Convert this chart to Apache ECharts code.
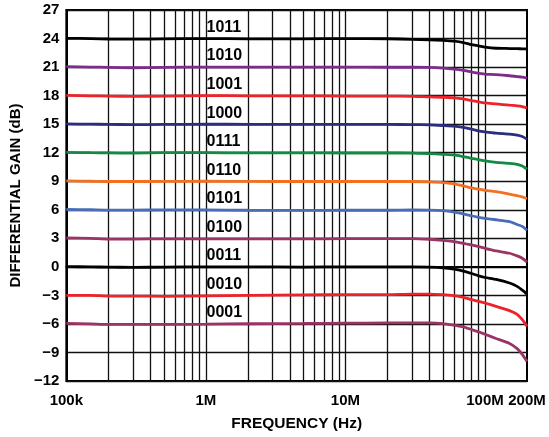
<!DOCTYPE html>
<html>
<head>
<meta charset="utf-8">
<script src="https://cdn.jsdelivr.net/npm/echarts@6/dist/echarts.min.js"></script>
<style>
html,body{margin:0;padding:0;background:#fff;}
#chart{width:549px;height:437px;}
</style>
</head>
<body>
<div id="chart"></div>
<script>
// ---- data ----
var freqs = [1e5, 1.5e5, 2e5, 3e5, 5e5, 1e6, 2e6, 5e6, 1e7, 2e7, 3e7, 4e7, 5e7, 6e7, 7e7, 8e7, 9e7, 1e8, 1.2e8, 1.5e8, 1.7e8, 1.85e8, 2e8];

var codes = ['1011', '1010', '1001', '1000', '0111', '0110', '0101', '0100', '0011', '0010', '0001'];
var nominalGain = [24, 21, 18, 15, 12, 9, 6, 3, 0, -3, -6];

var g1011 = [24.02, 24.0, 23.95, 23.93, 23.97, 24.0, 23.97, 23.97, 24.0, 23.98, 23.92, 23.86, 23.8, 23.72, 23.58, 23.35, 23.23, 23.1, 22.98, 22.95, 22.93, 22.92, 22.9];
var g1010 = [21.05, 21.0, 20.97, 20.93, 20.97, 21.0, 21.0, 21.0, 21.0, 20.98, 20.98, 20.97, 20.9, 20.79, 20.65, 20.48, 20.34, 20.27, 20.2, 20.09, 20.0, 19.95, 19.85];
var g1001 = [18.02, 17.98, 17.95, 17.92, 17.95, 18.0, 17.98, 17.98, 17.95, 17.95, 17.93, 17.86, 17.83, 17.76, 17.65, 17.48, 17.34, 17.23, 17.13, 16.99, 16.93, 16.85, 16.71];
var g1000 = [15.02, 15.0, 14.98, 14.95, 14.97, 15.0, 14.98, 14.97, 14.98, 14.97, 14.96, 14.93, 14.86, 14.79, 14.65, 14.48, 14.3, 14.2, 14.06, 13.95, 13.85, 13.7, 13.43];
var g0111 = [12.03, 12.0, 11.98, 11.95, 12.0, 12.0, 11.98, 11.98, 11.97, 11.97, 11.96, 11.9, 11.83, 11.76, 11.58, 11.41, 11.27, 11.13, 10.99, 10.88, 10.78, 10.6, 10.26];
var g0110 = [9.03, 9.0, 8.97, 8.97, 8.98, 9.0, 8.98, 8.97, 8.97, 8.97, 8.97, 8.93, 8.86, 8.72, 8.51, 8.3, 8.16, 8.05, 7.9, 7.65, 7.48, 7.35, 7.15];
var g0101 = [6.03, 6.0, 5.97, 5.97, 5.98, 5.98, 5.95, 5.93, 5.95, 5.95, 5.98, 5.97, 5.9, 5.76, 5.58, 5.37, 5.2, 5.09, 4.95, 4.75, 4.45, 4.25, 3.84];
var g0100 = [3.03, 3.0, 2.92, 2.92, 2.95, 2.95, 2.95, 2.93, 2.97, 2.97, 2.97, 2.9, 2.79, 2.65, 2.48, 2.3, 2.13, 1.95, 1.68, 1.43, 1.15, 0.9, 0.5];
var g0011 = [0.02, 0.0, -0.03, -0.05, -0.03, 0.0, 0.0, -0.02, 0.0, 0.0, 0.0, -0.03, -0.1, -0.24, -0.45, -0.7, -0.94, -1.12, -1.32, -1.7, -2.05, -2.45, -2.86];
var g0010 = [-3.0, -3.0, -3.07, -3.07, -3.1, -3.05, -3.0, -2.95, -2.92, -2.92, -2.87, -2.87, -2.93, -3.03, -3.2, -3.45, -3.62, -3.8, -4.15, -4.6, -5.0, -5.55, -6.25];
var g0001 = [-5.95, -6.0, -6.05, -6.05, -6.05, -6.03, -5.98, -5.95, -5.92, -5.9, -5.9, -5.9, -5.97, -6.14, -6.31, -6.59, -6.83, -7.08, -7.53, -8.05, -8.6, -9.2, -9.95];

var gainSeries = [g1011, g1010, g1001, g1000, g0111, g0110, g0101, g0100, g0011, g0010, g0001];
var colors = ['#000000', '#7E2C8C', '#EE2229', '#2B2D7E', '#138A43', '#F37021', '#4A6CB5', '#9B3466', '#000000', '#EE2229', '#9B3466'];

var labelFreq = 1.08e6;
var xTickValues = [1e5, 1e6, 1e7, 1e8, 2e8];
var xTickLabels = ['100k', '1M', '10M', '100M', '200M'];
var gridFreqs = [2e5, 3e5, 4e5, 5e5, 6e5, 7e5, 8e5, 9e5, 1e6, 2e6, 3e6, 4e6, 5e6, 6e6, 7e6, 8e6, 9e6, 1e7, 2e7, 3e7, 4e7, 5e7, 6e7, 7e7, 8e7, 9e7, 1e8];

var yMin = -12, yMax = 27, yStep = 3;
// ---- chart ----
var FONT = 'Liberation Sans, Arial, sans-serif';
var chart = echarts.init(document.getElementById('chart'), null, {renderer: 'canvas'});

var series = [];
series.push({
  type: 'line', data: [], silent: true, z: 1,
  markLine: {
    silent: true, symbol: ['none', 'none'], label: {show: false},
    lineStyle: {color: '#111', width: 1.3, type: 'solid'},
    animation: false,
    data: gridFreqs.map(function (f) { return {xAxis: f}; })
  }
});
gainSeries.forEach(function (vals, i) {
  series.push({
    name: codes[i], type: 'line', showSymbol: false, symbol: 'none',
    smooth: 0.2, z: 5,
    lineStyle: {color: colors[i], width: 2.8},
    data: freqs.map(function (f, k) { return [f, vals[k]]; }),
    markPoint: {
      symbol: 'circle', symbolSize: 0, silent: true, animation: false,
      label: {show: true, position: 'right', distance: 0, offset: [-4, -11], formatter: codes[i],
        color: '#000', fontFamily: FONT, fontWeight: 'bold', fontSize: 16},
      data: [{coord: [labelFreq, nominalGain[i]]}]
    }
  });
});

chart.setOption({
  animation: false,
  backgroundColor: '#fff',
  grid: {left: 59, right: 22, top: 10, bottom: 54, show: true, borderColor: '#000', borderWidth: 2, backgroundColor: 'transparent'},
  xAxis: {
    type: 'log', logBase: 10, min: 1e5, max: 2e8,
    name: 'FREQUENCY (Hz)', nameLocation: 'middle', nameGap: 35,
    nameTextStyle: {color: '#000', fontFamily: FONT, fontWeight: 'bold', fontSize: 15.5},
    axisLine: {show: true, lineStyle: {color: '#000', width: 2}},
    axisTick: {show: false},
    splitLine: {show: false},
    axisLabel: {
      customValues: xTickValues,
      color: '#000', fontFamily: FONT, fontWeight: 'bold', fontSize: 15, margin: 12,
      formatter: function (v) {
        for (var i = 0; i < xTickValues.length; i++) {
          if (Math.abs(v - xTickValues[i]) / xTickValues[i] < 1e-6) return xTickLabels[i];
        }
        return '';
      }
    }
  },
  yAxis: {
    type: 'value', min: yMin, max: yMax, interval: yStep,
    name: 'DIFFERENTIAL GAIN (dB)', nameLocation: 'middle', nameGap: 41,
    nameTextStyle: {color: '#000', fontFamily: FONT, fontWeight: 'bold', fontSize: 15},
    axisLine: {show: true, lineStyle: {color: '#000', width: 2}},
    axisTick: {show: false},
    splitLine: {show: true, lineStyle: {color: '#111', width: 1.3}},
    axisLabel: {
      color: '#000', fontFamily: FONT, fontWeight: 'bold', fontSize: 15, margin: 7,
      formatter: function (v) { return String(v).replace('-', '\u2212'); }
    }
  },
  series: series
});
</script>
</body>
</html>
